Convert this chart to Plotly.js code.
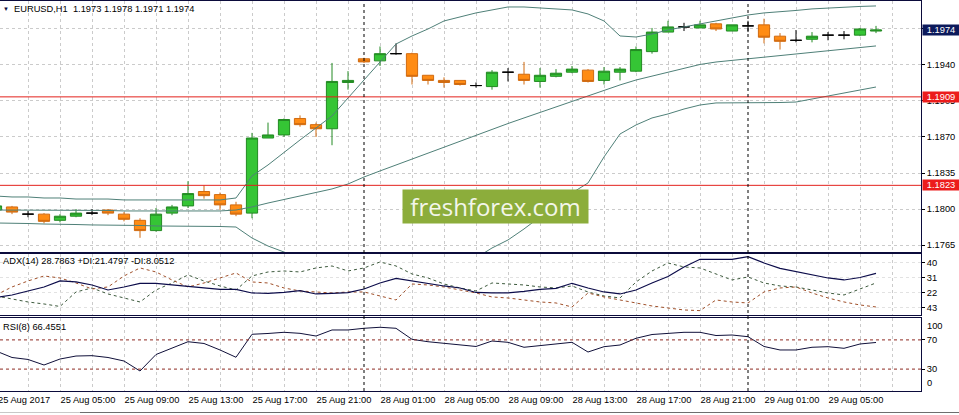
<!DOCTYPE html>
<html><head><meta charset="utf-8">
<script src="https://cdn.plot.ly/plotly-3.0.1.min.js"></script>
<style>html,body{margin:0;padding:0;background:#fff;overflow:hidden}#chart{width:959px;height:415px}</style>
</head><body><div id="chart"></div>
<script>
// ---------- DATA ----------
const barTimes = [
 '25 Aug 01:00','25 Aug 02:00','25 Aug 03:00','25 Aug 04:00','25 Aug 05:00','25 Aug 06:00','25 Aug 07:00','25 Aug 08:00',
 '25 Aug 09:00','25 Aug 10:00','25 Aug 11:00','25 Aug 12:00','25 Aug 13:00','25 Aug 14:00','25 Aug 15:00','25 Aug 16:00',
 '25 Aug 17:00','25 Aug 18:00','25 Aug 19:00','25 Aug 20:00','25 Aug 21:00','25 Aug 22:00','25 Aug 23:00',
 '28 Aug 00:00','28 Aug 01:00','28 Aug 02:00','28 Aug 03:00','28 Aug 04:00','28 Aug 05:00','28 Aug 06:00','28 Aug 07:00',
 '28 Aug 08:00','28 Aug 09:00','28 Aug 10:00','28 Aug 11:00','28 Aug 12:00','28 Aug 13:00','28 Aug 14:00','28 Aug 15:00',
 '28 Aug 16:00','28 Aug 17:00','28 Aug 18:00','28 Aug 19:00','28 Aug 20:00','28 Aug 21:00','28 Aug 22:00','28 Aug 23:00',
 '29 Aug 00:00','29 Aug 01:00','29 Aug 02:00','29 Aug 03:00','29 Aug 04:00','29 Aug 05:00','29 Aug 06:00','29 Aug 07:00','29 Aug 08:00'
];
const openP  = [1.1799,1.1802,1.1795,1.1795,1.1789,1.1793,1.1796,1.1799,1.1795,1.1789,1.1779,1.1796,1.1803,1.1817,1.1814,1.1804,
                1.1796,1.1869,1.1872,1.1888,1.1882,1.1878,1.1923,1.1946,1.1944,1.1951,1.1951,1.1930,1.1925,1.1925,1.1920,1.1919,
                1.1933,1.1931,1.1924,1.1929,1.1933,1.1935,1.1925,1.1933,1.1934,1.1953,1.1972,1.1977,1.1976,1.1980,1.1973,1.1978,
                1.1979,1.1968,1.1964,1.1965,1.1969,1.1969,1.1969,1.1973];
const highP  = [1.1804,1.1803,1.1798,1.1796,1.1795,1.1800,1.1800,1.1800,1.1797,1.1791,1.1801,1.1804,1.1827,1.1823,1.1816,1.1807,
                1.1874,1.1884,1.1888,1.1891,1.1884,1.1942,1.1934,1.1947,1.1958,1.1961,1.1952,1.1930,1.1928,1.1925,1.1923,1.1935,
                1.1937,1.1943,1.1937,1.1936,1.1939,1.1936,1.1938,1.1938,1.1958,1.1976,1.1983,1.1981,1.1983,1.1981,1.1979,1.1983,
                1.1985,1.1971,1.1974,1.1972,1.1972,1.1973,1.1976,1.1978];
const lowP   = [1.1797,1.1795,1.1792,1.1786,1.1787,1.1792,1.1794,1.1794,1.1788,1.1772,1.1778,1.1794,1.1801,1.1810,1.1799,1.1793,
                1.1791,1.1869,1.1870,1.1880,1.1870,1.1862,1.1916,1.1942,1.1939,1.1950,1.1921,1.1921,1.1918,1.1920,1.1918,1.1916,
                1.1924,1.1921,1.1918,1.1928,1.1932,1.1923,1.1921,1.1925,1.1933,1.1951,1.1972,1.1973,1.1976,1.1973,1.1973,1.1972,
                1.1961,1.1955,1.1962,1.1962,1.1964,1.1965,1.1968,1.1971];
const closeP = [1.1803,1.1797,1.1795,1.1788,1.1793,1.1796,1.1796,1.1796,1.1790,1.1779,1.1795,1.1802,1.1815,1.1813,1.1804,1.1795,
                1.1869,1.1872,1.1887,1.1882,1.1878,1.1924,1.1925,1.1943,1.1951,1.1951,1.1929,1.1925,1.1923,1.1921,1.1920,1.1933,
                1.1933,1.1925,1.1930,1.1932,1.1936,1.1924,1.1934,1.1936,1.1955,1.1972,1.1977,1.1977,1.1979,1.1975,1.1979,1.1978,
                1.1967,1.1963,1.1964,1.1968,1.1969,1.1969,1.1975,1.1974];
const bbUpper = [1.18126,1.18117,1.18117,1.18107,1.18107,1.18097,1.18097,1.18097,1.18088,1.18088,1.18088,1.18088,1.18088,1.18088,1.18088,1.18107,
                 1.18321,1.18428,1.18545,1.18671,1.18788,1.18904,1.19079,1.19254,1.19429,1.19604,1.19682,1.19750,1.19828,1.19867,1.19906,1.19935,
                 1.19964,1.19964,1.19954,1.19945,1.19935,1.19896,1.19828,1.19682,1.19672,1.19701,1.19740,1.19770,1.19799,1.19828,1.19857,1.19886,
                 1.19906,1.19915,1.19930,1.19945,1.19954,1.19964,1.19969,1.19974];
const bbMiddle = [1.17990,1.17990,1.17990,1.17990,1.17986,1.17986,1.17986,1.17986,1.17981,1.17981,1.17981,1.17981,1.17981,1.17981,1.17981,1.17990,
                  1.18020,1.18058,1.18092,1.18126,1.18156,1.18195,1.18243,1.18311,1.18370,1.18428,1.18486,1.18545,1.18603,1.18661,1.18715,1.18778,
                  1.18831,1.18885,1.18938,1.18992,1.19045,1.19099,1.19157,1.19206,1.19254,1.19293,1.19332,1.19371,1.19405,1.19429,1.19444,1.19458,
                  1.19473,1.19488,1.19507,1.19522,1.19536,1.19551,1.19565,1.19585];
const bbLower = [1.17864,1.17864,1.17859,1.17854,1.17854,1.17849,1.17845,1.17845,1.17845,1.17840,1.17835,1.17835,1.17835,1.17830,1.17830,1.17825,
                 1.17718,1.17640,1.17582,1.17524,1.17485,1.17446,1.17407,1.17368,1.17310,1.17251,1.17290,1.17339,1.17378,1.17456,1.17524,1.17621,
                 1.17699,1.17806,1.17922,1.18039,1.18156,1.18253,1.18506,1.18729,1.18817,1.18885,1.18924,1.18972,1.19011,1.19031,1.19031,1.19031,
                 1.19031,1.19035,1.19040,1.19070,1.19099,1.19128,1.19157,1.19186];
const adxMain = [18.9,20.4,22.8,25.2,28.8,28.2,26.4,23.4,25.2,27.4,27.3,26.4,25.4,24.6,23.8,23.7,
                 21.6,21.4,21.9,23.0,21.0,21.3,21.8,24.0,27.6,30.3,28.8,27.0,25.8,24.6,21.9,21.6,
                 21.6,22.5,23.7,24.4,27.4,24.6,22.2,21.0,23.4,27.6,31.5,37.2,41.8,41.8,41.8,43.4,
                 39.6,36.4,34.5,32.4,30.6,29.4,30.9,33.4];
const plusDI = [19.8,18.0,16.2,15.0,13.5,22.2,24.6,21.0,18.6,16.2,23.4,27.6,32.4,28.8,25.8,23.4,
                31.8,34.2,34.8,34.2,36.6,37.8,34.8,36.6,40.2,37.8,33.0,30.6,27.0,24.6,22.8,27.6,
                27.0,26.4,25.2,24.6,25.8,22.2,19.8,18.6,28.2,34.8,39.6,37.2,36.6,33.0,29.4,31.2,
                27.6,25.8,25.2,23.4,21.6,20.4,24.0,27.6];
const minusDI = [20.4,25.2,28.8,31.8,30.6,27.6,24.0,25.2,31.8,36.6,34.2,29.4,25.2,27.6,30.6,33.6,
                 28.2,27.6,24.6,22.8,22.2,21.6,22.2,22.2,19.8,17.4,27.0,26.4,25.2,23.4,21.6,19.2,
                 18.6,17.4,16.2,15.6,13.2,21.6,19.2,17.4,15.6,13.8,12.6,11.4,11.0,17.4,16.2,15.6,
                 22.2,24.6,25.2,21.6,18.6,16.2,14.4,13.2];
const rsi8 = [54.8,45.9,43.2,35.6,43.8,47.9,48.4,45.9,41.1,27.4,50.0,58.2,67.5,65.1,56.2,46.2,
              77.7,78.8,80.4,79.0,75.3,83.6,83.6,85.9,87.3,85.9,70.8,67.5,65.3,63.0,61.0,68.5,
              66.7,59.9,62.1,64.0,66.7,53.4,60.7,63.0,72.2,77.4,79.0,80.4,80.4,76.0,76.7,74.4,
              61.0,56.2,56.2,59.9,60.7,58.5,64.4,66.46];
const timeLabelTimes = ['25 Aug 05:00','25 Aug 09:00','25 Aug 13:00','25 Aug 17:00','25 Aug 21:00','28 Aug 01:00','28 Aug 05:00',
                        '28 Aug 09:00','28 Aug 13:00','28 Aug 17:00','28 Aug 21:00','29 Aug 01:00','29 Aug 05:00'];
const firstLabel = '25 Aug 2017';
const separatorTimes = ['28 Aug 00:00','29 Aug 00:00'];
const priceTicks = [1.1765,1.1800,1.1835,1.1870,1.1905,1.1940,1.1975];
const adxTicks = [13,22,31,40];
const adxTickText = ['43','22','31','40'];
const rsiTicks = [30,70];
const rsiEdgeTicks = [0,100];
const rsiLevels = [30,70];
const lineLevels = [1.1909,1.1823];
const lastPrice = 1.1974;
const headerText = 'EURUSD,H1  1.1973 1.1978 1.1971 1.1974';
const adxText = 'ADX(14) 28.7863 +DI:21.4797 -DI:8.0512';
const rsiText = 'RSI(8) 66.4551';

// ---------- BUILD ----------
const idx = barTimes.map((_, i) => i);
function pick(pred){
  const ii = idx.filter(pred);
  return {x: ii, open: ii.map(i=>openP[i]), high: ii.map(i=>highP[i]), low: ii.map(i=>lowP[i]), close: ii.map(i=>closeP[i])};
}
const bull = pick(i => closeP[i] > openP[i]);
const bear = pick(i => closeP[i] < openP[i]);
const doji = pick(i => closeP[i] === openP[i]);

const FONT = '"Liberation Sans", Arial, sans-serif';
const FS = 9.3;
const W = 921, H = 415;
const xp = px => px / W, yp = py => 1 - py / H;
const gridC = '#cbcbcb', frameC = '#0b0b3b';
const bandC = '#4f8078';

function candle(d, fill, lc){
  return Object.assign({type:'candlestick', xaxis:'x', yaxis:'y', whiskerwidth:0, hoverinfo:'skip',
    increasing:{fillcolor:fill, line:{color:lc, width:1}},
    decreasing:{fillcolor:fill, line:{color:lc, width:1}}}, d);
}
const traces = [
  {type:'scatter', mode:'lines', x:idx, y:bbUpper, line:{color:bandC, width:1}, hoverinfo:'skip'},
  {type:'scatter', mode:'lines', x:idx, y:bbMiddle, line:{color:bandC, width:1}, hoverinfo:'skip'},
  {type:'scatter', mode:'lines', x:idx, y:bbLower, line:{color:bandC, width:1}, hoverinfo:'skip'},
  candle(bear, '#ff8c14', '#d06a10'),
  candle(bull, '#35c535', '#238a23'),
  candle(doji, '#000000', '#000000'),
  {type:'scatter', mode:'lines', x:idx, y:plusDI, yaxis:'y2', line:{color:'#3d5a3d', width:1, dash:'3px,3px'}, hoverinfo:'skip'},
  {type:'scatter', mode:'lines', x:idx, y:minusDI, yaxis:'y2', line:{color:'#a0502a', width:1, dash:'3px,3px'}, hoverinfo:'skip'},
  {type:'scatter', mode:'lines', x:idx, y:adxMain, yaxis:'y2', line:{color:'#0c0c4a', width:1.2}, hoverinfo:'skip'},
  {type:'scatter', mode:'lines', x:idx, y:rsi8, yaxis:'y3', line:{color:'#10103a', width:1}, hoverinfo:'skip'}
];

const tickIdx = timeLabelTimes.map(t => barTimes.indexOf(t));
const sepIdx = separatorTimes.map(t => barTimes.indexOf(t));

const dMain = [yp(252), yp(1)], dAdx = [yp(315), yp(254)], dRsi = [yp(391), yp(318)];
const yCommon = {side:'right', ticks:'outside', ticklen:3, tickcolor:'#000', showline:true, linecolor:frameC, linewidth:1,
  zeroline:false, fixedrange:true, tickfont:{family:FONT, size:FS, color:'#000'}};

const shapes = [];
lineLevels.forEach(v => shapes.push({type:'line', xref:'paper', yref:'y', x0:0, x1:1, y0:v, y1:v, line:{color:'#e3211c', width:1}}));
rsiLevels.forEach(v => shapes.push({type:'line', xref:'paper', yref:'y3', x0:0, x1:1, y0:v, y1:v, line:{color:'#8e2a22', width:1, dash:'3px,3px'}}));
sepIdx.forEach(i => shapes.push({type:'line', xref:'x', yref:'paper', x0:i, x1:i, y0:dRsi[0], y1:dMain[1], line:{color:'#000', width:1, dash:'3px,3px'}}));
// window frame below the time scale
shapes.push({type:'line', xref:'paper', yref:'paper', x0:xp(80), x1:xp(959), y0:yp(412.5), y1:yp(412.5), line:{color:'#6e6e6e', width:1}});
shapes.push({type:'line', xref:'paper', yref:'paper', x0:0, x1:xp(80), y0:yp(412.5), y1:yp(412.5), line:{color:'#c8c8c8', width:1}});

const annotations = [
  {xref:'paper', yref:'paper', x:xp(12), y:yp(9), xanchor:'left', yanchor:'middle', text:headerText, showarrow:false, font:{family:FONT, size:FS, color:'#000'}},
  {xref:'paper', yref:'paper', x:xp(1), y:yp(9), xanchor:'left', yanchor:'middle', text:'▼', showarrow:false, font:{family:FONT, size:6, color:'#0b0b3b'}},
  {xref:'paper', yref:'paper', x:xp(1), y:yp(261), xanchor:'left', yanchor:'middle', text:adxText, showarrow:false, font:{family:FONT, size:FS, color:'#000'}},
  {xref:'paper', yref:'paper', x:xp(1), y:yp(327), xanchor:'left', yanchor:'middle', text:rsiText, showarrow:false, font:{family:FONT, size:FS, color:'#000'}},
  {xref:'x', yref:'paper', x:0.3, xshift:-5, y:dRsi[0], yanchor:'top', yshift:-2, xanchor:'left', text:firstLabel, showarrow:false, font:{family:FONT, size:FS, color:'#000'}},
  {xref:'paper', yref:'y3', x:1, xshift:4, y:rsiEdgeTicks[1], yanchor:'top', yshift:-1, xanchor:'left', text:String(rsiEdgeTicks[1]), showarrow:false, font:{family:FONT, size:FS, color:'#000'}},
  {xref:'paper', yref:'y3', x:1, xshift:4, y:rsiEdgeTicks[0], yanchor:'bottom', yshift:1, xanchor:'left', text:String(rsiEdgeTicks[0]), showarrow:false, font:{family:FONT, size:FS, color:'#000'}},
  {xref:'paper', yref:'y', x:1, xshift:1, y:lastPrice, xanchor:'left', yanchor:'middle', text:lastPrice.toFixed(4), showarrow:false,
    bgcolor:'#0c1a5c', width:36, height:10, borderpad:0, align:'center', font:{family:FONT, size:FS, color:'#ffffff'}},
  ...lineLevels.map(v => ({xref:'paper', yref:'y', x:1, xshift:1, y:v, xanchor:'left', yanchor:'middle', text:v.toFixed(4), showarrow:false,
    bgcolor:'#ec1c1c', width:36, height:10, borderpad:0, align:'center', font:{family:FONT, size:FS, color:'#ffffff'}})),
  {xref:'paper', yref:'paper', x:xp(495.5), y:yp(206.5), xanchor:'center', yanchor:'middle', text:'freshforex.com', showarrow:false,
    bgcolor:'#8cad3b', width:185, height:33, borderpad:0, font:{family:'"Open Sans", sans-serif', size:24, color:'#f3f6ea'}}
];

const layout = {
  width:959, height:415, margin:{l:0, r:38, t:0, b:0, pad:0}, paper_bgcolor:'#ffffff', plot_bgcolor:'#ffffff',
  showlegend:false, hovermode:false, font:{family:FONT, size:FS, color:'#000'},
  boxgap:0.3, boxgroupgap:0,
  xaxis:{domain:[0,1], anchor:'y3', range:[0.25, 57.8125], fixedrange:true, rangeslider:{visible:false},
    tickvals:tickIdx, ticktext:timeLabelTimes, ticklabelposition:'outside right', ticks:'', tickfont:{family:FONT, size:FS, color:'#000'},
    showgrid:true, gridcolor:gridC, griddash:'3px,3px', gridwidth:1,
    minor:{dtick:2, tick0:0, showgrid:true, gridcolor:gridC, griddash:'3px,3px', gridwidth:1, ticks:''},
    showline:true, mirror:'all', linecolor:frameC, linewidth:1, zeroline:false},
  yaxis:Object.assign({}, yCommon, {domain:dMain, anchor:'x', range:[1.17582, 1.20022], tickvals:priceTicks, ticktext:priceTicks.map(v=>v.toFixed(4)),
    showgrid:true, gridcolor:gridC, griddash:'3px,3px'}),
  yaxis2:Object.assign({}, yCommon, {domain:dAdx, anchor:'x', range:[8.38, 44.98], tickvals:adxTicks, ticktext:adxTickText,
    showgrid:true, gridcolor:'#e2e2e2', griddash:'3px,3px'}),
  yaxis3:Object.assign({}, yCommon, {domain:dRsi, anchor:'x', range:[0, 100], tickvals:rsiTicks, ticktext:rsiTicks.map(String), showgrid:false}),
  shapes, annotations
};
Plotly.newPlot('chart', traces, layout, {staticPlot:true, displayModeBar:false});
</script></body></html>
